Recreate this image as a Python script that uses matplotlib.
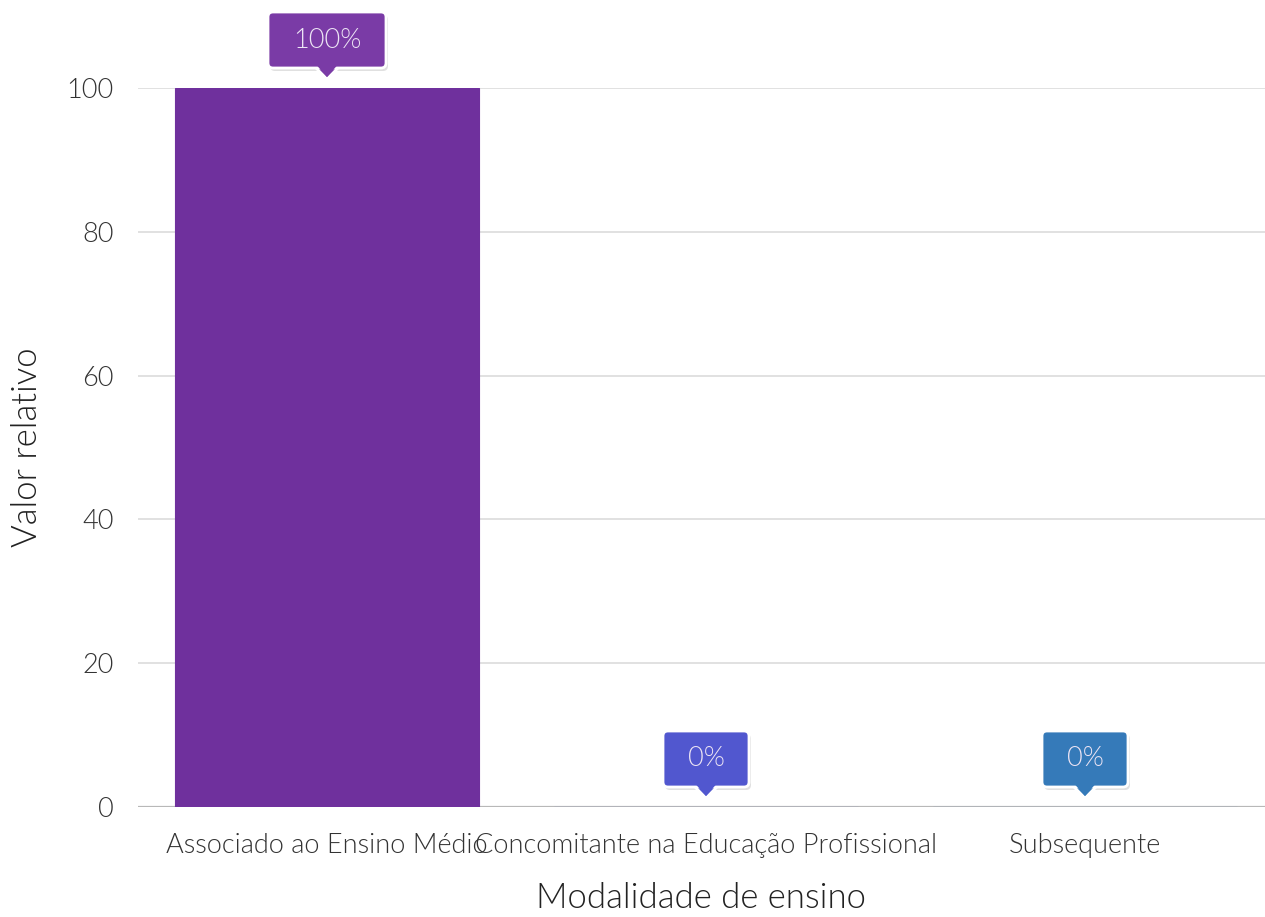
import matplotlib
matplotlib.use('Agg')
import matplotlib.pyplot as plt
import matplotlib.transforms as mtransforms
from matplotlib.patches import FancyBboxPatch, Polygon

# data
categories = ['Associado ao Ensino Médio', 'Concomitante na Educação Profissional', 'Subsequente']
values = [100, 0, 0]
labels = ['100%', '0%', '0%']
bar_colors = ['#6f309d', '#5a5fd0', '#3b7fbe']
tip_colors = ['#7a3ba6', '#5157cf', '#357ab9']

plt.rcParams['font.family'] = ['Lato', 'DejaVu Sans']
W = 300  # Lato Light

DPI = 100
fig = plt.figure(figsize=(12.65, 9.17), dpi=DPI)
fig.patch.set_facecolor('white')
ax = fig.add_axes([137.5 / 1265, 110 / 917, 1127.5 / 1265, 719 / 917])

x = list(range(len(categories)))
ax.bar(x, values, width=0.8, color=bar_colors, edgecolor=bar_colors, linewidth=0.8, zorder=3)
ax.set_xlim(-0.5, -0.5 + 1127.5 / 379)
ax.set_ylim(0, 100)
ax.set_yticks([0, 20, 40, 60, 80, 100])
ax.yaxis.grid(True, color='#dcdcdc', linewidth=1.2, zorder=0)
ax.set_axisbelow(True)
ax.axhline(0, color='#b8b8b8', linewidth=1.6, zorder=2)
for s in ax.spines.values():
    s.set_visible(False)

ax.set_xticks(x)
ax.set_xticklabels(categories, fontsize=19.5, fontweight=W, color='#333333')
ax.tick_params(axis='x', length=0, pad=19)
ax.tick_params(axis='y', length=0, pad=17, labelsize=19.5, labelcolor='#333333')
for t in ax.get_yticklabels():
    t.set_fontweight(W)

ax.set_xlabel('Modalidade de ensino', fontsize=25, fontweight=W, color='#222222', labelpad=17)
ax.set_ylabel('Valor relativo', fontsize=25, fontweight=W, color='#222222', labelpad=17)


def tooltip(i, v, text, color, width):
    trans = mtransforms.IdentityTransform() + mtransforms.ScaledTranslation(i, v, ax.transData)
    h = 56
    b = 20
    # shadow
    sh = FancyBboxPatch((-width / 2 + 2, b - 3), width, h,
                        boxstyle='round,pad=0,rounding_size=5',
                        facecolor='#000000', edgecolor='none', alpha=0.12,
                        transform=trans, clip_on=False, zorder=5)
    fig.add_artist(sh)
    tri = Polygon([(-12, b + 1), (12, b + 1), (0, 9)], closed=True,
                  facecolor=color, edgecolor='white', linewidth=2,
                  transform=trans, clip_on=False, zorder=6)
    fig.add_artist(tri)
    box = FancyBboxPatch((-width / 2, b), width, h,
                         boxstyle='round,pad=0,rounding_size=5',
                         facecolor=color, edgecolor='white', linewidth=2,
                         transform=trans, clip_on=False, zorder=7)
    fig.add_artist(box)
    tri2 = Polygon([(-10.5, b + 3), (10.5, b + 3), (0, 11)], closed=True,
                   facecolor=color, edgecolor='none',
                   transform=trans, clip_on=False, zorder=8)
    fig.add_artist(tri2)
    fig.text(0, b + h / 2, text, transform=trans, ha='center', va='center',
             fontsize=19.5, fontweight=W, color='#ece4f4', zorder=9)


for i, (v, lab, c) in enumerate(zip(values, labels, tip_colors)):
    tooltip(i, v, lab, c, 118 if len(lab) > 2 else 86)

fig.savefig('out.png', dpi=DPI, facecolor='white')
